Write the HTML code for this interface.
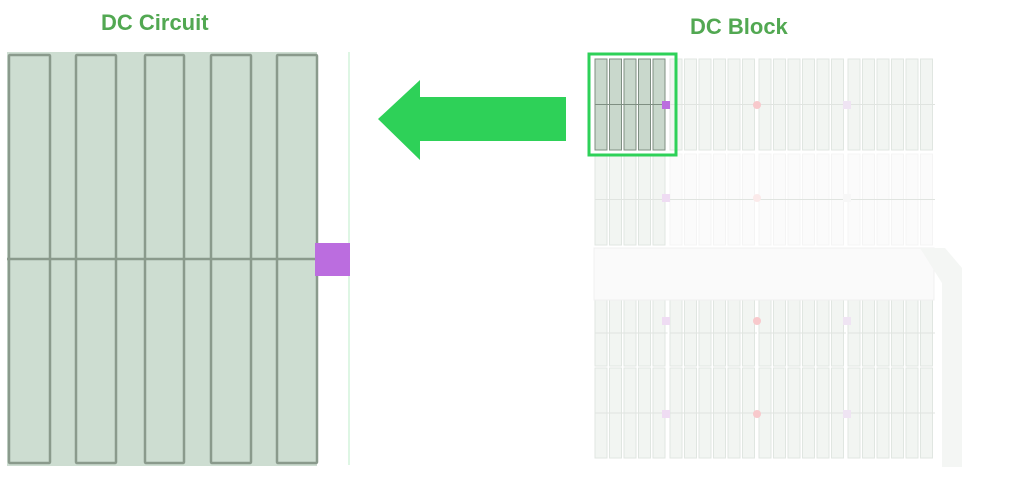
<!DOCTYPE html>
<html><head><meta charset="utf-8"><style>
html,body{margin:0;padding:0;background:#fff;width:1024px;height:487px;overflow:hidden}
.t{position:absolute;font:bold 22px "Liberation Sans",sans-serif;color:#52a852}
</style></head><body>
<div class="t" style="left:101px;top:10px">DC Circuit</div>
<div class="t" style="left:690px;top:14px">DC Block</div>
<svg id="s" width="1024" height="487" style="position:absolute;left:0;top:0">
<rect x="7" y="52" width="310" height="414" fill="#cdddd1"/>
<line x1="349" y1="52" x2="349" y2="465" stroke="#d4f4dc" stroke-width="1.5"/>
<g fill="none" stroke="#8a9a8c" stroke-width="2.5">
<rect x="9" y="55" width="41" height="408" rx="1"/>
<rect x="76" y="55" width="40" height="408" rx="1"/>
<rect x="145" y="55" width="39" height="408" rx="1"/>
<rect x="211" y="55" width="40" height="408" rx="1"/>
<rect x="277" y="55" width="40" height="408" rx="1"/>
<line x1="7" y1="259" x2="317" y2="259"/>
</g>
<rect x="315" y="243" width="35" height="33" fill="#bb6ddf"/>
<polygon points="378,119 420,80 420,97 566,97 566,141 420,141 420,160" fill="#2ed158"/>
<g id="g"></g>
<rect x="589" y="54" width="87" height="101" fill="none" stroke="#2ed158" stroke-width="3"/>
</svg>
<script>
var g=document.getElementById('g'),h='';
var groups=[[595,5],[670,6],[759,6],[848,6]];
var rows=[[59,91],[154,91],[300,66],[368,90]];
rows.forEach(function(r,ri){groups.forEach(function(gr,gi){
 for(var i=0;i<gr[1];i++){var x=gr[0]+i*14.5;
  var dark=(ri==0&&gi==0);
  var faint=(ri==1&&gi>0);
  h+='<rect x="'+x+'" y="'+r[0]+'" width="12" height="'+r[1]+'" fill="'+(dark?'#c9d8cc':(faint?'#fbfbfb':'#f2f5f2'))+'" stroke="'+(dark?'#7f8f82':(faint?'#f4f4f4':'#e0e6e1'))+'" stroke-width="1"/>';
 }
 h+='<line x1="'+gr[0]+'" y1="'+(r[0]+r[1]/2)+'" x2="'+(gr[0]+gr[1]*14.5)+'" y2="'+(r[0]+r[1]/2)+'" stroke="'+(ri==0&&gi==0?'#7f8f82':'#e0e4e0')+'"/>';
});});
h+='<rect x="594" y="248" width="340" height="52" fill="#fafafa" stroke="#f0f0f0"/>';
h+='<polygon points="920,248 945,248 962,268 962,467 942,467 942,283" fill="#f4f6f4"/>';
[105,198,321,414].forEach(function(y,i){
 h+='<rect x="'+(i==0?662:662)+'" y="'+(y-4)+'" width="8" height="8" fill="'+(i==0?'#bb6ddf':'#efdcf3')+'"/>';
 h+='<circle cx="757" cy="'+y+'" r="4" fill="'+(i==1?'#fbeaea':'#f8c9cc')+'"/>';
 h+='<rect x="843" y="'+(y-4)+'" width="8" height="8" fill="'+(i==1?'#f7f7f7':'#efe4f3')+'"/>';
});
g.innerHTML=h;
</script>
</body></html>
